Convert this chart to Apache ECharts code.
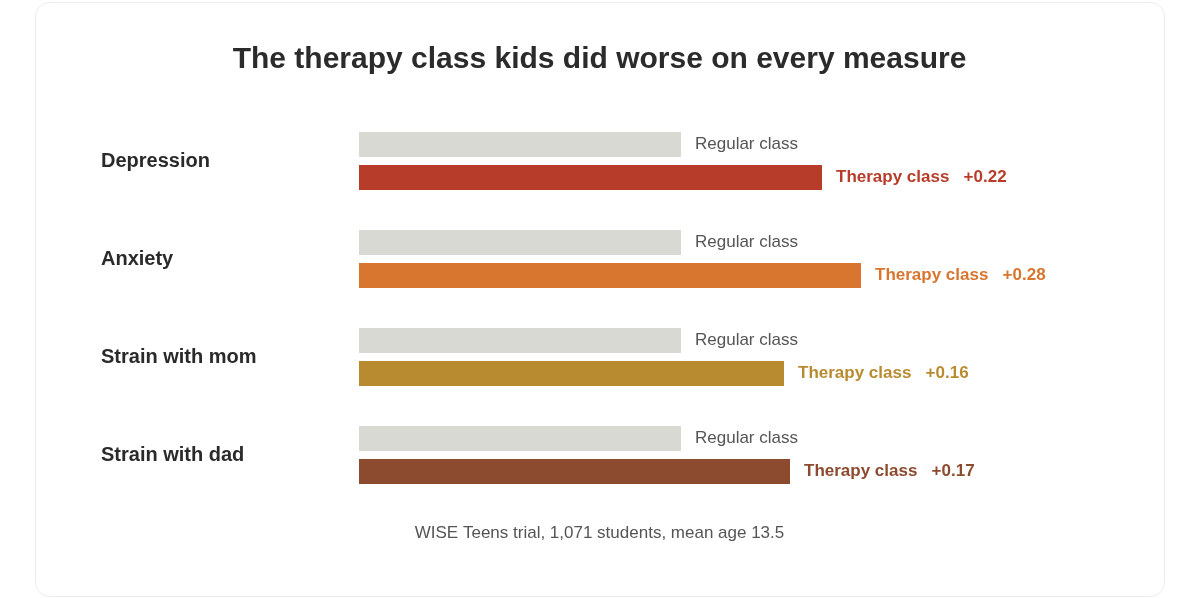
<!DOCTYPE html>
<html>
<head>
<meta charset="utf-8">
<script src="https://cdn.jsdelivr.net/npm/echarts@6/dist/echarts.min.js"></script>
<style>
  html, body { margin: 0; padding: 0; background: #fff; }
  #chart { width: 1199px; height: 598px; }
</style>
</head>
<body>
<div id="chart"></div>
<script>
// measures and bar lengths (arbitrary units)
var measures = ['Depression', 'Anxiety', 'Strain with mom', 'Strain with dad'];
var regularValues = [322, 322, 322, 322];
var therapyValues = [463, 502, 425, 431];
var effectLabels = ['+0.22', '+0.28', '+0.16', '+0.17'];
var therapyColors = ['#b73d2a', '#d8752f', '#b98b31', '#8c4a2e'];

var chart = echarts.init(document.getElementById('chart'));
var font = 'Helvetica, Arial, "Liberation Sans", sans-serif';

var option = {
  animation: false,
  textStyle: { fontFamily: font },
  title: {
    text: 'The therapy class kids did worse on every measure',
    left: 'center',
    top: 40,
    textStyle: { fontSize: 30, fontWeight: 'bold', color: '#2b2b2b', fontFamily: font }
  },
  graphic: [
    {
      type: 'rect', left: 35, top: 2, z: -10,
      shape: { width: 1129, height: 594, r: 14 },
      style: { fill: '#fff', stroke: '#ececec', lineWidth: 1 }
    },
    {
      type: 'text', left: 'center', top: 525,
      style: { text: 'WISE Teens trial, 1,071 students, mean age 13.5', fontSize: 17, fill: '#555', fontFamily: font }
    }
  ],
  grid: { left: 359, right: 40, top: 112, height: 392 },
  xAxis: { type: 'value', min: 0, max: 800, show: false },
  yAxis: {
    type: 'category', data: measures, inverse: true,
    axisLine: { show: false }, axisTick: { show: false },
    axisLabel: {
      align: 'left', margin: 258, fontSize: 20, fontWeight: 'bold', color: '#2a2a2a', fontFamily: font
    }
  },
  series: [
    {
      type: 'bar', name: 'Regular class', data: regularValues,
      barWidth: 25, barGap: '32%',
      itemStyle: { color: '#d9d9d4' },
      label: { show: true, position: 'right', distance: 14, formatter: 'Regular class', fontSize: 17, color: '#555' }
    },
    {
      type: 'bar', name: 'Therapy class',
      data: therapyValues.map(function (v, i) {
        return {
          value: v,
          itemStyle: { color: therapyColors[i] },
          label: { color: therapyColors[i] }
        };
      }),
      barWidth: 25,
      label: {
        show: true, position: 'right', distance: 14, fontSize: 17, fontWeight: 'bold',
        formatter: function (p) { return 'Therapy class   ' + effectLabels[p.dataIndex]; }
      }
    }
  ]
};
chart.setOption(option);
</script>
</body>
</html>
